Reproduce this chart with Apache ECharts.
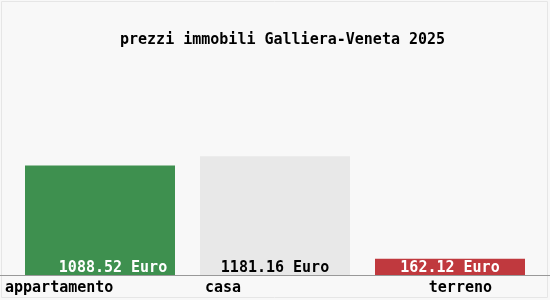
<!DOCTYPE html>
<html>
<head>
<meta charset="utf-8">
<script src="https://cdn.jsdelivr.net/npm/echarts@6/dist/echarts.min.js"></script>
<style>html,body{margin:0;padding:0;background:#f8f8f8}#c{width:550px;height:300px}</style>
</head>
<body>
<div id="c"></div>
<script>
var titleText = 'prezzi immobili Galliera-Veneta 2025';
var categories = ['appartamento', 'casa', 'terreno'];
var values = [1088.52, 1181.16, 162.12];
var unit = 'Euro';
var barColors = ['#3e904f', '#e8e8e8', '#c0393e'];
var labelColors = ['#ffffff', '#000000', '#ffffff'];
var labelOffsets = [[13, 1], [0, 1], [0, 1]];

var font = '"DejaVu Sans Mono", monospace';
var weight = 'bold';
var chart = echarts.init(document.getElementById('c'));
var richKeys = ['a', 'b', 'c'];
chart.setOption({
  backgroundColor: '#f8f8f8',
  animation: false,
  title: {
    text: titleText,
    left: 115,
    top: 28,
    textStyle: { fontFamily: font, fontSize: 15, fontWeight: weight, color: '#000' }
  },
  grid: { left: 12.5, right: 12.5, top: 74, bottom: 25 },
  xAxis: {
    type: 'category',
    data: categories,
    axisLine: { show: false },
    axisTick: { show: false },
    axisLabel: {
      interval: 0,
      hideOverlap: false,
      margin: 6,
      formatter: function (v, i) { return '{' + richKeys[i] + '|' + v + '}'; },
      rich: {
        a: { width: 190, align: 'left', fontFamily: font, fontSize: 15, fontWeight: weight, color: '#000' },
        b: { width: 140, align: 'left', fontFamily: font, fontSize: 15, fontWeight: weight, color: '#000' },
        c: { width: 84, align: 'right', fontFamily: font, fontSize: 15, fontWeight: weight, color: '#000' }
      }
    }
  },
  yAxis: { type: 'value', min: 0, max: 2000, show: false, splitLine: { show: false } },
  series: [{
    type: 'bar',
    barWidth: 150,
    data: values.map(function (v, i) {
      return {
        value: v,
        itemStyle: { color: barColors[i] },
        label: { color: labelColors[i], offset: labelOffsets[i] }
      };
    }),
    label: {
      show: true,
      position: 'insideBottom',
      distance: 0,
      fontFamily: font,
      fontSize: 15,
      fontWeight: weight,
      formatter: function (p) { return p.value.toFixed(2) + ' ' + unit; }
    }
  }],
  graphic: [
    { type: 'line', shape: { x1: 0, y1: 275.5, x2: 550, y2: 275.5 }, style: { stroke: '#999', lineWidth: 1 }, z: 10 },
    { type: 'rect', shape: { x: 1.5, y: 1.5, width: 546, height: 296 }, style: { fill: 'none', stroke: '#e6e6e6', lineWidth: 1 }, z: -1 }
  ]
});
</script>
</body>
</html>
